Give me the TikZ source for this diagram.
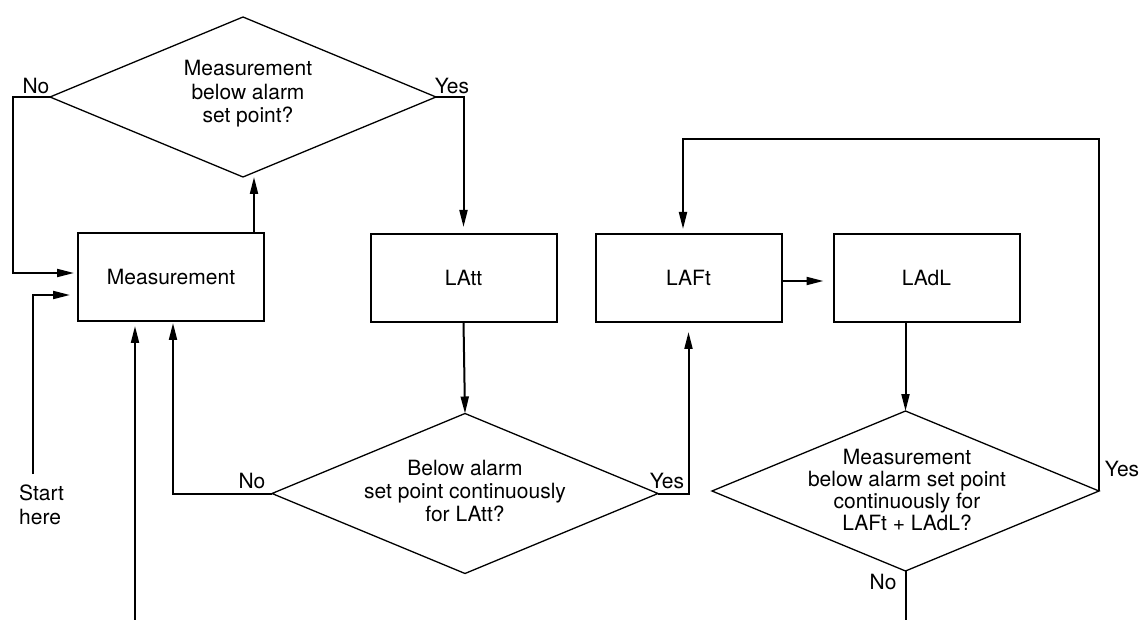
\documentclass[tikz,border=0pt]{standalone}
\usepackage{fontspec}
\setmainfont{TeX Gyre Heros}
\usetikzlibrary{arrows.meta,shapes.geometric}
\begin{document}
\begin{tikzpicture}[x=1pt,y=-1pt,
  conn/.style={line width=2pt},
  arr/.style={conn,-{Triangle[length=17pt,width=8pt]}},
  box/.style={draw,line width=2pt,minimum width=186pt,minimum height=88pt,inner sep=0pt,outer sep=0pt,font=\fontsize{21}{24}\selectfont},
  dia/.style={draw,diamond,line width=1.3pt,minimum width=386pt,minimum height=160pt,inner sep=0pt,outer sep=0pt},
  dtext/.style={align=center,inner sep=0pt},
  lbl/.style={font=\fontsize{21}{24}\selectfont,inner sep=0pt}]
\useasboundingbox (0,0) rectangle (1141,620);
% boxes
\node[box] (m) at (171,277) {Measurement};
\node[box] (latt) at (463.5,278) {LAtt};
\node[box] (laft) at (688.5,278) {LAFt};
\node[box] (ladl) at (926.5,278) {LAdL};
% diamonds
\node[dia] (d1) at (243,97) {};
\node[dia] (d2) at (465,493.5) {};
\node[dia,minimum width=387pt] (d3) at (905.5,491) {};
\node[dtext,font=\fontsize{21}{23.5}\selectfont] (t1) at (248,94) {Measurement\\below alarm\\set point?};
\node[dtext,font=\fontsize{21}{23}\selectfont] (t2) at (465,491) {Below alarm\\set point continuously\\for LAtt?};
\node[dtext,font=\fontsize{21}{22}\selectfont] (t3) at (907,490) {Measurement\\below alarm set point\\continuously for\\LAFt + LAdL?};
% labels
\node[lbl] (no1) at (36,86) {No};
\node[lbl] (yes1) at (452,86) {Yes};
\node[lbl] (no2) at (252,481) {No};
\node[lbl] (yes2) at (667,481) {Yes};
\node[lbl] (yes3) at (1122,469) {Yes};
\node[lbl] (no3) at (883,582) {No};
\node[lbl,align=left,anchor=west] (start) at (19,505) {Start\\here};
% coordinates
\coordinate (st) at (33,474);
\coordinate (bot1) at (135,620);
\coordinate (bot2) at (905.5,620);
\coordinate (loop) at (683,139);
% connectors
\draw[arr] ([xshift=83pt]m.north) -- ([xshift=83pt]m.north |- d1.south);
\draw[arr,shorten >=4pt] (d1.west) -- ++(-37,0) |- ([yshift=4pt]m.west);
\draw[arr,shorten >=7pt] (d1.east) -| (latt.north);
\draw[arr,shorten >=8pt] (st) |- ([yshift=-18pt]m.west);
\draw[arr,shorten >=5pt] (bot1) -- (bot1 |- m.south);
\draw[arr] (latt.south) -- (d2.north);
\draw[arr,shorten >=2pt] (d2.west) -| ([xshift=2pt]m.south);
\draw[arr,shorten >=10pt] (d2.east) -| (laft.south);
\draw[arr,shorten >=10pt] ([yshift=-3pt]laft.east) -- ([yshift=-3pt]ladl.west);
\draw[arr] (ladl.south -| d3.north) -- (d3.north);
\draw[arr,shorten >=5pt] (d3.east) |- (loop) -- (loop |- laft.north);
\draw[conn] (d3.south) -- (bot2);
\end{tikzpicture}
\end{document}
